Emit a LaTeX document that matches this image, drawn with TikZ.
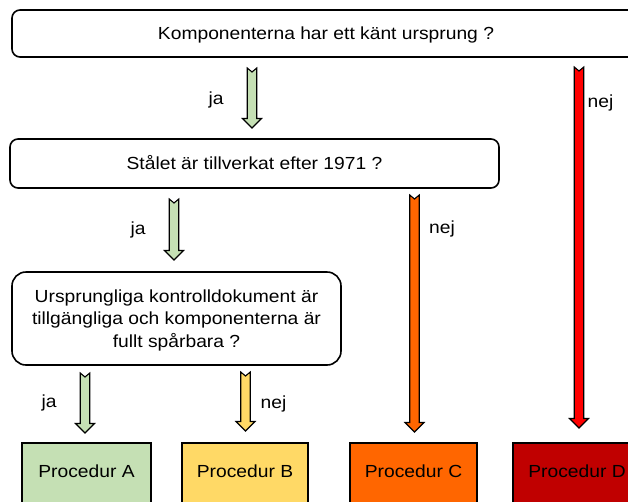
\documentclass[tikz,border=0pt]{standalone}
\usepackage{fontspec}
\setmainfont[FakeStretch=1.1]{Liberation Sans}
\usetikzlibrary{calc}
\definecolor{cA}{RGB}{197,224,180}
\definecolor{cB}{RGB}{255,217,102}
\definecolor{cC}{RGB}{255,102,0}
\definecolor{cD}{RGB}{192,0,0}
\definecolor{cRed}{RGB}{255,0,0}
\tikzset{
  txt/.style={font=\fontsize{17.5}{22.5}\selectfont},
  question/.style={txt, draw, line width=1.6pt, rounded corners=8pt, align=center,
    text height=12.5pt, text depth=0pt, inner sep=0pt},
  procbox/.style={txt, draw, line width=2pt, minimum height=60pt,
    text height=12.5pt, text depth=4pt, inner sep=0pt},
  arrowline/.style={draw=black, line width=1.1pt, line join=miter},
  lbl/.style={txt, anchor=base, inner sep=0pt}
}
\newcommand\blockarrow[3]{%
  \path[arrowline, fill=#3] let \p1=(#1), \p2=(#2) in
    (\x1-4.75pt,\y1) -- (\x1,\y1-4pt) -- (\x1+4.75pt,\y1)
    -- (\x1+4.75pt,\y2+9.5pt) -- (\x1+9.5pt,\y2+9.5pt) -- (\x1,\y2)
    -- (\x1-9.5pt,\y2+9.5pt) -- (\x1-4.75pt,\y2+9.5pt) -- cycle;}
\begin{document}
\begin{tikzpicture}[x=1pt, y=-1pt]
\useasboundingbox (0,0) rectangle (628,501);
\clip (0,0) rectangle (628,501);

% question boxes
\node[question, minimum width=628pt, minimum height=47pt] (q1) at (326,33.5)
  {Komponenterna har ett känt ursprung ?};
\node[question, minimum width=489pt, minimum height=49pt] (q2) at (254.5,163.5)
  {Stålet är tillverkat efter 1971 ?};
\node[question, rounded corners=14pt, text height=, minimum width=329pt, minimum height=93pt] (q3) at (176.5,318.5)
  {Ursprungliga kontrolldokument är\\tillgängliga och komponenterna är\\fullt spårbara ?};

% procedure boxes
\node[procbox, fill=cA, minimum width=129pt] (pA) at (86.5,473) {Procedur A};
\node[procbox, fill=cB, minimum width=126pt] (pB) at (245,473) {Procedur B};
\node[procbox, fill=cC, minimum width=127pt] (pC) at (413.5,473) {Procedur C};
\node[procbox, fill=cD, minimum width=128pt] (pD) at (577,473) {Procedur D};

% arrow ends
\coordinate (a1s) at (252,68);    \coordinate (a1e) at (252,128);
\coordinate (r1s) at (579,67);    \coordinate (r1e) at (579,428);
\coordinate (a2s) at (174,199);   \coordinate (a2e) at (174,260);
\coordinate (o2s) at (414.5,195); \coordinate (o2e) at (414.5,432);
\coordinate (a3s) at (85,373);    \coordinate (a3e) at (85,433);
\coordinate (y3s) at (245.5,372); \coordinate (y3e) at (245.5,431);

\blockarrow{a1s}{a1e}{cA}
\blockarrow{r1s}{r1e}{cRed}
\blockarrow{a2s}{a2e}{cA}
\blockarrow{o2s}{o2e}{cC}
\blockarrow{a3s}{a3e}{cA}
\blockarrow{y3s}{y3e}{cB}

% labels
\node[lbl] (l1) at (216,104) {ja};
\node[lbl] (l2) at (600.5,107) {nej};
\node[lbl] (l3) at (138,234) {ja};
\node[lbl] (l4) at (442,233) {nej};
\node[lbl] (l5) at (49,407) {ja};
\node[lbl] (l6) at (273.5,408) {nej};
\end{tikzpicture}
\end{document}
